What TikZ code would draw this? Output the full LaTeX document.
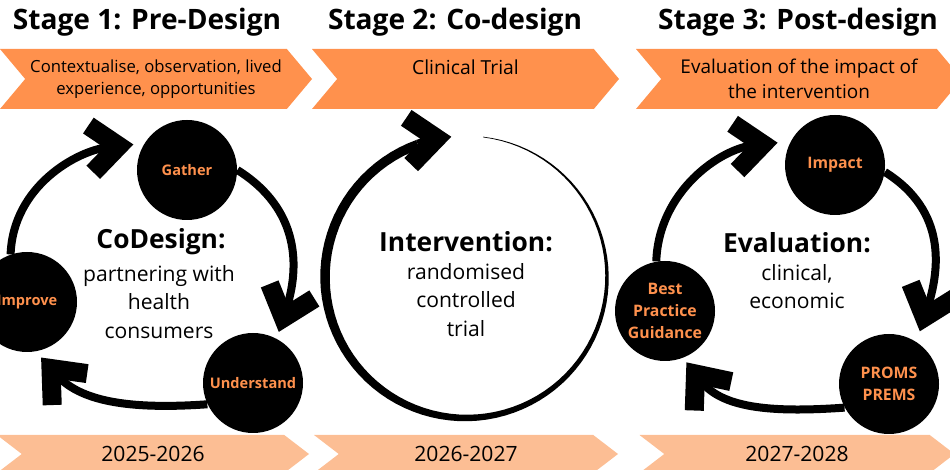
\documentclass[tikz,border=0pt]{standalone}
\usepackage{fontspec}
\usepackage{tikz}
\setmainfont{Open Sans}
\definecolor{stageorange}{RGB}{255, 145, 77}
\definecolor{yearpeach}{RGB}{252, 190, 148}
\usetikzlibrary{shapes.symbols, arrows.meta}

\begin{document}
\begin{tikzpicture}[
    x=0.2mm, y=0.2mm,
    title/.style={font=\fontsize{16}{18}\selectfont\bfseries},
    stagebar/.style={signal, signal from=west, signal to=east, signal pointer angle=100, fill=stageorange, minimum width=62.4mm, minimum height=12mm, inner sep=0pt, align=center, font=\fontsize{9.5}{12.5}\selectfont},
    yearbar/.style={signal, signal from=west, signal to=east, signal pointer angle=75, fill=yearpeach, minimum width=62.4mm, minimum height=7.6mm, inner sep=0pt, font=\fontsize{12}{14}\selectfont},
    hub/.style={circle, fill=black, minimum size=20mm, inner sep=0pt, align=center, text=stageorange, font=\fontsize{8.3}{12}\selectfont\bfseries},
    heading/.style={font=\fontsize{15}{18}\selectfont\bfseries},
    body/.style={align=center, font=\fontsize{12}{16}\selectfont},
    tip/.style={-{Straight Barb[length=5.6mm, width=9.4mm, line width=3.8mm]}},
    cyc/.style={line width=1.6mm, tip}
]
    \useasboundingbox (0,0) rectangle (950,470);

    % Stage headings
    \node[title] (t1) at (147,448) {Stage 1: Pre-Design};
    \node[title] (t2) at (455,448) {Stage 2: Co-design};
    \node[title] (t3) at (798,448) {Stage 3: Post-design};

    % Stage banners
    \node[stagebar] (bar1) at (156,391) {Contextualise, observation, lived\\experience, opportunities};
    \node[stagebar, minimum width=61.4mm, font=\fontsize{11}{14}\selectfont] (bar2) at (465.5,391) {Clinical Trial\\\mbox{}};
    \node[stagebar, minimum width=65.2mm, font=\fontsize{10.8}{14}\selectfont] (bar3) at (799,391) {Evaluation of the impact of\\the intervention};

    % Year banners
    \node[yearbar] (y1) at (153,16) {2025-2026};
    \node[yearbar, minimum width=60.8mm] (y2) at (466,16) {2026-2027};
    \node[yearbar, minimum width=63mm] (y3) at (797,16) {2027-2028};

    % CoDesign cycle
    \node[heading] (codesign) at (161,228) {CoDesign:};
    \node[body] (codesigntxt) at (159,168) {partnering with\\health\\consumers};
    \node[hub] (gather) at (187,300) {Gather};
    \node[hub] (understand) at (253,87) {Understand};
    \node[hub] (improve) at (27,168) {Improve};

    \draw[cyc, shorten >=2.2mm] (improve.109) to[out=88, in=186] (gather.148);
    \draw[cyc, shorten >=1.4mm] (gather.0) to[out=-32, in=72, looseness=1.1] (understand.62);
    \draw[cyc, shorten >=1.6mm] (understand.205) to[out=184, in=-48] (improve.-80);

    % Intervention loop, line gets heavier towards the head
    \coordinate (rctr) at (466,193);
    \node[heading] (interv) at (466,228) {Intervention:};
    \node[body] (intervtxt) at (466,170) {randomised\\controlled\\trial};
    \fill[shift={(rctr)}] plot[domain=83:-250, samples=90] (\x:{141+min(9.5,0.6+9*(83-\x)/263)/2})
        -- plot[domain=-250:83, samples=90] (\x:{141-min(9.5,0.6+9*(83-\x)/263)/2}) -- cycle;
    \draw[line width=1.9mm, tip]
        ([shift={(-250:141)}]rctr) arc[start angle=-250, end angle=-264, radius=141];

    % Evaluation cycle
    \node[heading] (evaluation) at (797,227) {Evaluation:};
    \node[body] (evaluationtxt) at (797,183) {clinical,\\economic};
    \node[hub, font=\fontsize{9}{12.5}\selectfont\bfseries] (impact) at (835,305) {Impact};
    \node[hub, font=\fontsize{9}{12.5}\selectfont\bfseries] (proms) at (889,86) {PROMS\\PREMS};
    \node[hub, font=\fontsize{9}{12.5}\selectfont\bfseries] (guidance) at (665,159) {Best\\Practice\\Guidance};

    \draw[cyc, shorten >=2.6mm] (guidance.100) to[out=88, in=186] (impact.152);
    \draw[cyc, shorten >=2.2mm] (impact.-8) to[out=-32, in=72, looseness=1.1] (proms.57);
    \draw[cyc, shorten >=1.1mm] (proms.208) to[out=184, in=-52] (guidance.-69);

\end{tikzpicture}
\end{document}
